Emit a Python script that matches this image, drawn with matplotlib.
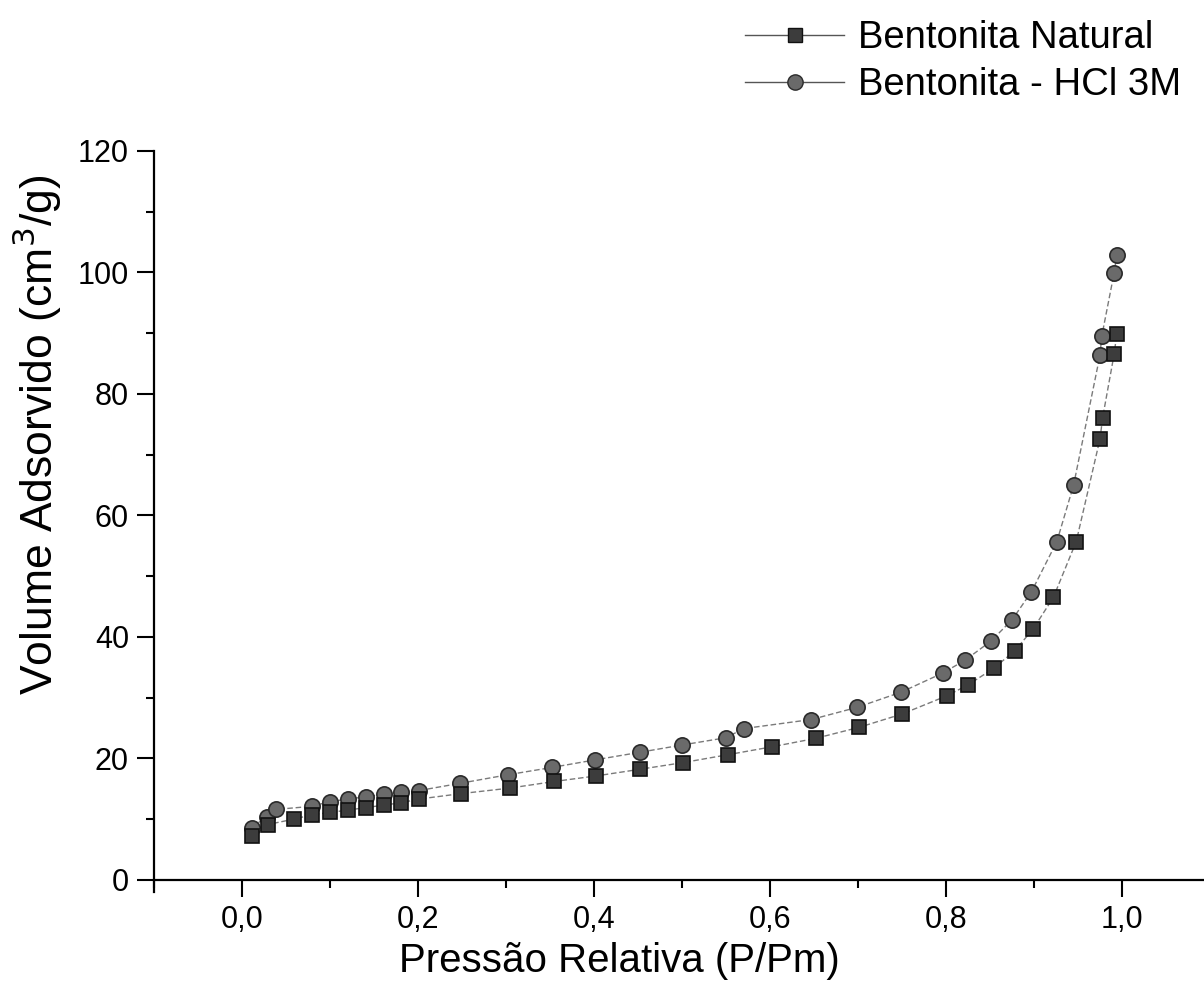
import matplotlib
matplotlib.use("Agg")
import matplotlib.pyplot as plt
from matplotlib.lines import Line2D
from matplotlib.ticker import MultipleLocator, FuncFormatter

plt.rcParams['font.family'] = ['Liberation Sans', 'DejaVu Sans']

# dados
natural_x = [0.011, 0.029, 0.059, 0.079, 0.100, 0.121, 0.141, 0.161, 0.181, 0.201,
             0.249, 0.304, 0.355, 0.402, 0.452, 0.501, 0.552, 0.602, 0.652, 0.701,
             0.750, 0.801, 0.825, 0.854, 0.878, 0.899, 0.922, 0.948, 0.975, 0.978,
             0.991, 0.994]
natural_y = [7.3, 9.1, 10.0, 10.7, 11.1, 11.5, 11.9, 12.3, 12.7, 13.3,
             14.2, 15.1, 16.2, 17.1, 18.2, 19.3, 20.6, 21.9, 23.3, 25.1,
             27.3, 30.3, 32.1, 34.8, 37.7, 41.3, 46.5, 55.7, 72.6, 76.1,
             86.5, 89.8]

acid_x = [0.011, 0.028, 0.039, 0.079, 0.100, 0.121, 0.141, 0.161, 0.181, 0.201,
          0.248, 0.302, 0.352, 0.401, 0.452, 0.500, 0.550, 0.570, 0.647, 0.699,
          0.749, 0.797, 0.822, 0.851, 0.875, 0.897, 0.926, 0.945, 0.975, 0.977,
          0.991, 0.994]
acid_y = [8.6, 10.4, 11.6, 12.1, 12.9, 13.3, 13.7, 14.1, 14.4, 14.7,
          15.9, 17.3, 18.5, 19.75, 21.0, 22.2, 23.4, 24.9, 26.4, 28.4,
          30.9, 34.1, 36.2, 39.3, 42.8, 47.4, 55.7, 65.0, 86.4, 89.5,
          99.9, 102.8]

labels = ["Bentonita Natural", "Bentonita - HCl 3M"]

fig = plt.figure(figsize=(12.04, 10.08), dpi=100)
ax = fig.add_axes([154/1204, 1-892/1008, (1210-154)/1204, (892-151)/1008])

line_kw = dict(color='#7a7a7a', lw=1.0, ls=(0, (4, 2)))
ax.plot(acid_x, acid_y, marker='o', ms=11, mfc='#6a6a6a', mec='#2a2a2a', mew=1.2,
        zorder=2, **line_kw)
ax.plot(natural_x, natural_y, marker='s', ms=9.5, mfc='#3c3c3c', mec='#111111', mew=1.2,
        zorder=3, **line_kw)

ax.set_xlim(-0.1, 1.1)
ax.set_ylim(-2, 120)
ax.spines['top'].set_visible(False)
ax.spines['right'].set_visible(False)
ax.spines['bottom'].set_position(('data', 0))
for s in ['left', 'bottom']:
    ax.spines[s].set_linewidth(1.6)

ax.xaxis.set_major_locator(MultipleLocator(0.2))
ax.xaxis.set_minor_locator(MultipleLocator(0.1))
ax.yaxis.set_major_locator(MultipleLocator(20))
ax.yaxis.set_minor_locator(MultipleLocator(10))
ax.xaxis.set_major_formatter(FuncFormatter(lambda v, p: f"{v:.1f}".replace('.', ',')))
ax.yaxis.set_major_formatter(FuncFormatter(lambda v, p: f"{v:.0f}"))
ax.tick_params(which='major', direction='out', length=12, width=1.5, labelsize=22, pad=6)
ax.tick_params(which='minor', direction='out', length=6, width=1.5)

ax.set_xlabel("Pressão Relativa (P/Pm)", fontsize=29)
ax.set_ylabel("Volume Adsorvido (cm$^3$/g)", fontsize=32)
ax.xaxis.set_label_coords(0.441, -0.068)
ax.yaxis.set_label_coords(-0.085, 0.617)

handles = [
    Line2D([], [], color='#555555', lw=1.0, marker='s', ms=10, mfc='#3c3c3c', mec='#111111'),
    Line2D([], [], color='#555555', lw=1.0, marker='o', ms=11, mfc='#6a6a6a', mec='#2a2a2a'),
]
fig.legend(handles, labels, loc='upper left', bbox_to_anchor=(745/1204, 1-20/1008),
           frameon=False, fontsize=27.5, handlelength=2.6, handletextpad=0.35,
           labelspacing=0.3, borderpad=0, borderaxespad=0)

fig.savefig("out.png", dpi=100)
